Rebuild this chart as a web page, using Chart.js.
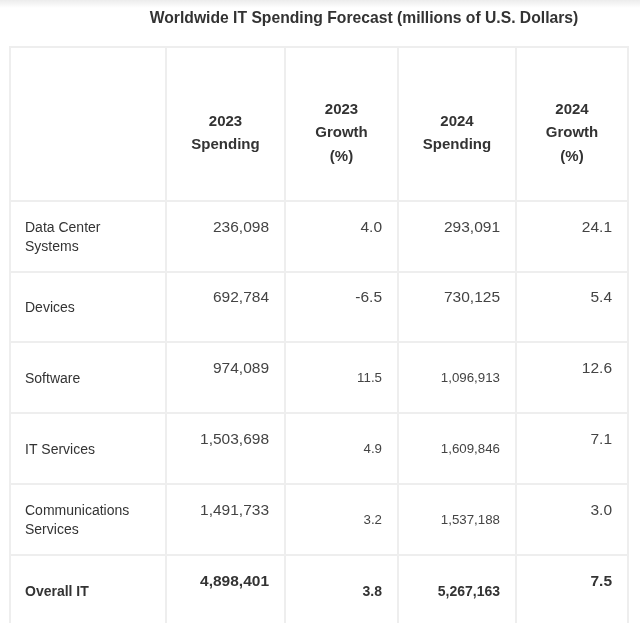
<!DOCTYPE html>
<html>
<head>
<meta charset="utf-8">
<script src="https://cdn.jsdelivr.net/npm/chart.js@4.4.1/dist/chart.umd.min.js"></script>
<style>
    html, body { margin: 0; padding: 0; background: #fff; }
    body { width: 640px; height: 623px; overflow: hidden; position: relative; }
    .shade { position: absolute; left: 0; top: 0; width: 640px; height: 8px; background: linear-gradient(#ececec, #ffffff); }
    canvas { position: absolute; left: 0; top: 0; }
</style>
</head>
<body>
<div class="shade"></div>
<canvas id="table" width="640" height="623"></canvas>
<script>
// DATA
const titleText = "Worldwide IT Spending Forecast (millions of U.S. Dollars)";
const categories = ["Data Center Systems", "Devices", "Software", "IT Services", "Communications Services", "Overall IT"];
const spending2023 = [236098, 692784, 974089, 1503698, 1491733, 4898401];
const growth2023 = [4.0, -6.5, 11.5, 4.9, 3.2, 3.8];
const spending2024 = [293091, 730125, 1096913, 1609846, 1537188, 5267163];
const growth2024 = [24.1, 5.4, 12.6, 7.1, 3.0, 7.5];
const columnHeaders = [["2023", "Spending"], ["2023", "Growth", "(%)"], ["2024", "Spending"], ["2024", "Growth", "(%)"]];

// LAYOUT (table units, measured from the table's top-left corner)
const colEdges = [0, 156, 275, 388, 506, 618];
const rowEdges = [0, 154, 224.5, 295, 366, 437, 508, 579];

const FONT = "'Liberation Sans', Arial, sans-serif";

const fmtSpend = v => v.toLocaleString("en-US");
const fmtGrowth = v => v.toFixed(1);

function wrapWords(ctx, text, maxWidth) {
    const words = text.split(" ");
    const lines = [];
    let line = "";
    words.forEach(w => {
        const test = line ? line + " " + w : w;
        if (ctx.measureText(test).width > maxWidth && line) {
            lines.push(line);
            line = w;
        } else {
            line = test;
        }
    });
    if (line) lines.push(line);
    return lines;
}

// draw text with its visual (cap) centre at cy
function drawText(ctx, text, x, cy, size) {
    ctx.fillText(text, x, cy + size * 0.36);
}

const tablePlugin = {
    id: "tableCells",
    afterDraw(chart) {
        const ctx = chart.ctx;
        const sx = chart.scales.x;
        const sy = chart.scales.y;
        const px = v => sx.getPixelForValue(v);
        const py = v => sy.getPixelForValue(v);

        ctx.save();

        // title
        ctx.fillStyle = "#333";
        ctx.font = "bold 15.7px " + FONT;
        ctx.textAlign = "center";
        drawText(ctx, titleText, 364, 17, 15.7);

        // grid lines
        const top = py(rowEdges[0]);
        const bottom = py(rowEdges[rowEdges.length - 1]);
        const left = px(colEdges[0]);
        const right = px(colEdges[colEdges.length - 1]);
        ctx.fillStyle = "#eeeeee";
        colEdges.forEach(c => {
            ctx.fillRect(Math.round(px(c)), top, 2, bottom - top);
        });
        rowEdges.forEach(r => {
            ctx.fillRect(left, Math.round(py(r)), right - left + 2, 2);
        });

        // header
        ctx.fillStyle = "#333";
        ctx.font = "bold 15px " + FONT;
        ctx.textAlign = "center";
        columnHeaders.forEach((lines, i) => {
            const cx = (px(colEdges[i + 1]) + px(colEdges[i + 2])) / 2 + 1;
            const mid = (py(rowEdges[0]) + py(rowEdges[1])) / 2 + 9;
            const lh = 23.5;
            lines.forEach((t, k) => {
                drawText(ctx, t, cx, mid + (k - (lines.length - 1) / 2) * lh, 15);
            });
        });

        // body rows
        categories.forEach((cat, r) => {
            const rTop = py(rowEdges[r + 1]);
            const rBot = py(rowEdges[r + 2]);
            const mid = (rTop + rBot) / 2 + 1;
            const isTotal = r === categories.length - 1;

            // category label
            ctx.fillStyle = "#333";
            ctx.font = (isTotal ? "bold " : "") + "14px " + FONT;
            ctx.textAlign = "left";
            const lx = px(colEdges[0]) + 16;
            const lines = wrapWords(ctx, cat, px(colEdges[1]) - px(colEdges[0]) - 32);
            lines.forEach((t, k) => {
                drawText(ctx, t, lx, mid + (k - (lines.length - 1) / 2) * 19.5, 14);
            });

            // values
            const cells = [fmtSpend(spending2023[r]), fmtGrowth(growth2023[r]), fmtSpend(spending2024[r]), fmtGrowth(growth2024[r])];
            ctx.textAlign = "right";
            ctx.fillStyle = isTotal ? "#333" : "#444";
            cells.forEach((t, c) => {
                const small = r >= 2 && (c === 1 || c === 2);
                const size = small ? (isTotal ? 14 : 13.3) : 15.5;
                ctx.font = (isTotal ? "bold " : "") + size + "px " + FONT;
                const xr = px(colEdges[c + 2]) - 15;
                const cy = small ? mid : rTop + 26;
                drawText(ctx, t, xr, cy, size);
            });
        });

        ctx.restore();
    }
};

new Chart(document.getElementById("table"), {
    type: "scatter",
    data: { datasets: [] },
    options: {
        responsive: false,
        animation: false,
        layout: { padding: { left: 9, right: 13, top: 46, bottom: 0 } },
        scales: {
            x: { type: "linear", min: 0, max: 618, display: false },
            y: { type: "linear", min: 0, max: 577, reverse: true, display: false }
        },
        plugins: {
            legend: { display: false },
            tooltip: { enabled: false }
        }
    },
    plugins: [tablePlugin]
});
</script>
</body>
</html>
